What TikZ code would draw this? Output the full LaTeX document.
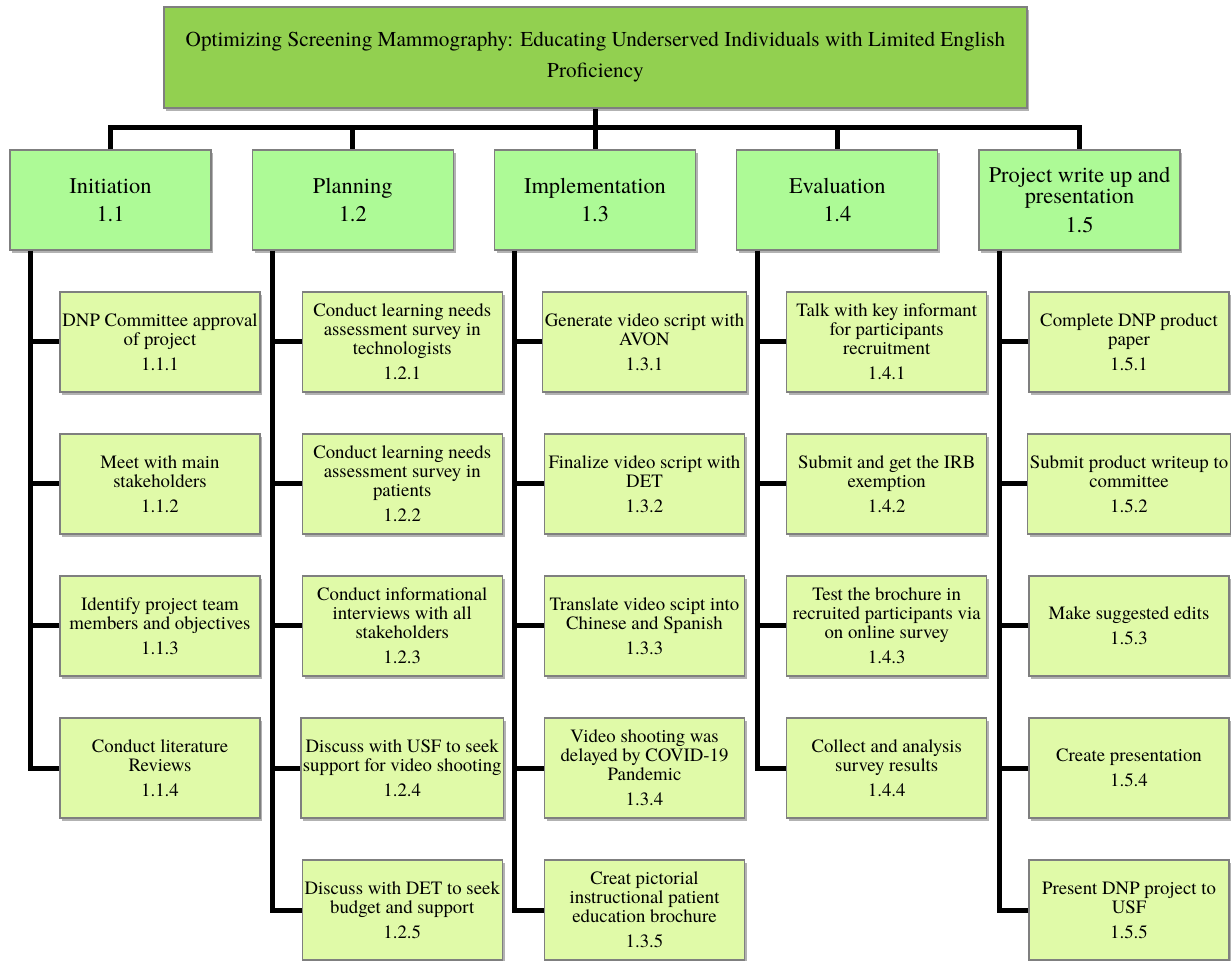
\documentclass[tikz,border=0pt]{standalone}
\usepackage{fontspec}
\setmainfont{texgyretermes}[Extension=.otf, UprightFont=*-regular, BoldFont=*-bold, ItalicFont=*-italic, BoldItalicFont=*-bolditalic]
\usetikzlibrary{shadows}

\definecolor{titlegreen}{HTML}{92D050}
\definecolor{phasegreen}{HTML}{ADFA96}
\definecolor{taskgreen}{HTML}{E0FAA8}
\definecolor{boxline}{HTML}{7F7F7F}

\tikzset{
  wbsbox/.style={draw=boxline, line width=0.6pt, align=center, inner sep=1pt,
    drop shadow={shadow xshift=1.2pt, shadow yshift=-1.6pt, opacity=0.3, fill=black}},
  titlebox/.style={wbsbox, fill=titlegreen, minimum width=431.5pt, minimum height=50.5pt,
    font=\fontsize{10.6}{15.5}\selectfont},
  phasebox/.style={wbsbox, fill=phasegreen, minimum width=100.5pt, minimum height=50pt,
    font=\fontsize{11.2}{10.6}\selectfont},
  taskbox/.style={wbsbox, fill=taskgreen, minimum width=100pt, minimum height=50pt,
    font=\fontsize{9.4}{9.5}\selectfont},
  link/.style={line width=2.5pt, black},
}

\begin{document}
\begin{tikzpicture}[x=0.5pt, y=-0.5pt]
\useasboundingbox (0,0) rectangle (1231,961);

% top of the tree
\node[titlebox] (wbs) at (595.5,57.5) {Optimizing Screening Mammography: Educating Underserved Individuals with Limited English\\Proficiency};

% phases
\node[phasebox] (p1) at (110.5,200) {Initiation\\[3.6pt]1.1};
\node[phasebox] (p2) at (352.75,200) {Planning\\[3.6pt]1.2};
\node[phasebox] (p3) at (595,200) {Implementation\\[3.6pt]1.3};
\node[phasebox] (p4) at (837.25,200) {Evaluation\\[3.6pt]1.4};
\node[phasebox] (p5) at (1079.5,200) {Project write up and\\presentation\\[3.6pt]1.5};

% tasks
\node[taskbox] (t1-1) at (160,342) {DNP Committee approval\\of project\\[3pt]1.1.1};
\node[taskbox] (t1-2) at (160,484) {Meet with main\\stakeholders\\[3pt]1.1.2};
\node[taskbox] (t1-3) at (160,626) {Identify project team\\members and objectives\\[3pt]1.1.3};
\node[taskbox] (t1-4) at (160,768) {Conduct literature\\Reviews\\[3pt]1.1.4};

\node[taskbox] (t2-1) at (402.25,342) {Conduct learning needs\\assessment survey in\\technologists\\[3pt]1.2.1};
\node[taskbox] (t2-2) at (402.25,484) {Conduct learning needs\\assessment survey in\\patients\\[3pt]1.2.2};
\node[taskbox] (t2-3) at (402.25,626) {Conduct informational\\interviews with all\\stakeholders\\[3pt]1.2.3};
\node[taskbox] (t2-4) at (402.25,768) {Discuss with USF to seek\\support for video shooting\\[3pt]1.2.4};
\node[taskbox] (t2-5) at (402.25,910) {Discuss with DET to seek\\budget and support\\[3pt]1.2.5};

\node[taskbox] (t3-1) at (644.5,342) {Generate video script with\\AVON\\[3pt]1.3.1};
\node[taskbox] (t3-2) at (644.5,484) {Finalize video script with\\DET\\[3pt]1.3.2};
\node[taskbox] (t3-3) at (644.5,626) {Translate video scipt into\\Chinese and Spanish\\[3pt]1.3.3};
\node[taskbox] (t3-4) at (644.5,768) {Video shooting was\\delayed by COVID-19\\Pandemic\\[3pt]1.3.4};
\node[taskbox] (t3-5) at (644.5,910) {Creat pictorial\\instructional patient\\education brochure\\[3pt]1.3.5};

\node[taskbox] (t4-1) at (886.75,342) {Talk with key informant\\for participants\\recruitment\\[3pt]1.4.1};
\node[taskbox] (t4-2) at (886.75,484) {Submit and get the IRB\\exemption\\[3pt]1.4.2};
\node[taskbox] (t4-3) at (886.75,626) {Test the brochure in\\recruited participants via\\on online survey\\[3pt]1.4.3};
\node[taskbox] (t4-4) at (886.75,768) {Collect and analysis\\survey results\\[3pt]1.4.4};

\node[taskbox] (t5-1) at (1129,342) {Complete DNP product\\paper\\[3pt]1.5.1};
\node[taskbox] (t5-2) at (1129,484) {Submit product writeup to\\committee\\[3pt]1.5.2};
\node[taskbox] (t5-3) at (1129,626) {Make suggested edits\\[3pt]1.5.3};
\node[taskbox] (t5-4) at (1129,768) {Create presentation\\[3pt]1.5.4};
\node[taskbox] (t5-5) at (1129,910) {Present DNP project to\\USF\\[3pt]1.5.5};

% connectors
\coordinate (bar) at (0,128);
\draw[link] (wbs.south) -- (wbs.south |- bar);
\draw[link] (p1.north) -- (p1.north |- bar) -- (p5.north |- bar) -- (p5.north);
\foreach \i in {2,3,4}
  \draw[link] (p\i.north |- bar) -- (p\i.north);

\foreach \i/\last in {1/4, 2/5, 3/5, 4/4, 5/5} {
  \coordinate (s\i) at ([xshift=10.5pt]p\i.south west);
  \draw[link] (s\i) |- (t\i-\last.west);
  \foreach \k in {1,...,\last}
    \draw[link] (t\i-\k.west) -- (t\i-\k.west -| s\i);
}
\end{tikzpicture}
\end{document}
